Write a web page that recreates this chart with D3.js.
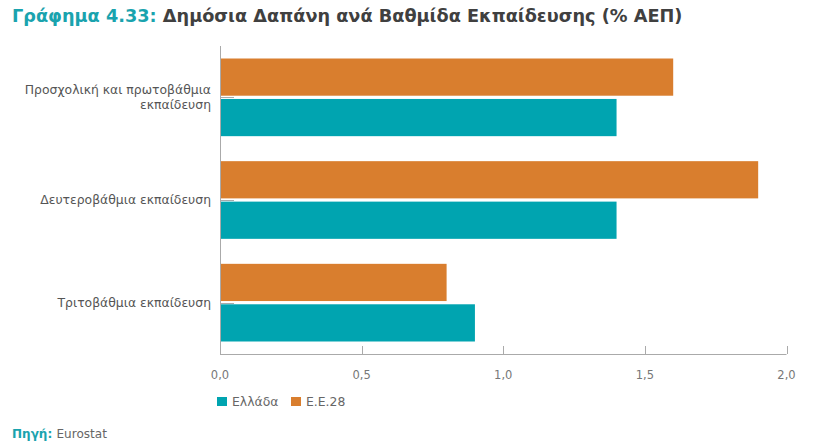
<!DOCTYPE html>
<html><head><meta charset="utf-8">
<script src="https://cdn.jsdelivr.net/npm/d3@7"></script>
<style>body{margin:0;background:#fff}svg{display:block}text{font-family:"DejaVu Sans",sans-serif}</style>
</head><body><svg id="c" width="831" height="448"></svg>
<script>
const categories = [["Προσχολική και πρωτοβάθμια","εκπαίδευση"],["Δευτεροβάθμια εκπαίδευση"],["Τριτοβάθμια εκπαίδευση"]];
const seriesNames = ["Ε.Ε.28","Ελλάδα"];
const eu28 = [1.6, 1.9, 0.8];
const greece = [1.4, 1.4, 0.9];
const xTicks = [0, 0.5, 1.0, 1.5, 2.0];
const colors = {"Ελλάδα":"#00A4B0","Ε.Ε.28":"#D97E2E"};

const svg = d3.select("#c");
const x = d3.scaleLinear().domain([0,2]).range([220,786.5]);
const y = d3.scaleBand().domain(d3.range(categories.length)).range([46,354]);
const inner = d3.scaleBand().domain(seriesNames).range([12.5, y.bandwidth()-12.5]).paddingInner(0.08);

function fit(sel, target){
  const w = sel.node().getComputedTextLength();
  const fs = parseFloat(sel.attr("font-size"));
  sel.attr("font-size", fs*target/w);
}

// title
const t = svg.append("text").attr("x",12).attr("y",22).attr("font-size",16).attr("font-weight","bold");
t.append("tspan").attr("fill","#1AA3AE").text("Γράφημα 4.33: ");
t.append("tspan").attr("fill","#404040").text("Δημόσια Δαπάνη ανά Βαθμίδα Εκπαίδευσης (% ΑΕΠ)");
fit(t, 671);

const data = [eu28, greece];
categories.forEach((c,i)=>{
  seriesNames.forEach((s,j)=>{
    svg.append("rect").attr("x",x(0)).attr("y",y(i)+inner(s))
      .attr("width",x(data[j][i])-x(0)).attr("height",inner.bandwidth()).attr("fill",colors[s]);
  });
});

// axes
const axisColor = "#aaa";
svg.append("line").attr("x1",x(0)+0.5).attr("x2",x(0)+0.5).attr("y1",46).attr("y2",354).attr("stroke",axisColor);
svg.append("line").attr("x1",x(0)).attr("x2",x(2)).attr("y1",354.5).attr("y2",354.5).attr("stroke",axisColor);
xTicks.forEach(v=>{
  svg.append("line").attr("x1",Math.round(x(v))+0.5).attr("x2",Math.round(x(v))+0.5).attr("y1",346).attr("y2",354).attr("stroke",axisColor);
  svg.append("text").attr("x",x(v)).attr("y",379).attr("text-anchor","middle").attr("font-size",11.5)
    .attr("fill","#777").text(d3.format(".1f")(v).replace(".",","));
});
// measure label font size
const probe = svg.append("text").attr("font-size",11).text("Δευτεροβάθμια εκπαίδευση");
fit(probe, 171);
const labelFs = +probe.attr("font-size");
probe.remove();
categories.forEach((c,i)=>{
  const cy = y(i)+y.bandwidth()/2;
  svg.append("line").attr("x1",x(0)).attr("x2",x(0)+14).attr("y1",Math.round(cy)+0.5).attr("y2",Math.round(cy)+0.5).attr("stroke",axisColor);
  const txt = svg.append("text").attr("x",211).attr("text-anchor","end").attr("font-size",labelFs).attr("fill","#555");
  const lh = 15;
  const y0 = cy + 4 - (c.length-1)*lh/2;
  c.forEach((line,k)=>txt.append("tspan").attr("x",211).attr("y",y0+k*lh).text(line));
});

// legend
const legendItems = [["Ελλάδα",217],["Ε.Ε.28",291]];
legendItems.forEach(([n,lx])=>{
  svg.append("rect").attr("x",lx).attr("y",397).attr("width",10).attr("height",9).attr("fill",colors[n]);
  svg.append("text").attr("x",lx+15).attr("y",405.5).attr("font-size",labelFs).attr("fill","#666").text(n);
});

// source
const s = svg.append("text").attr("x",12).attr("y",438).attr("font-size",11.5);
s.append("tspan").attr("fill","#1AA3AE").attr("font-weight","bold").text("Πηγή: ");
s.append("tspan").attr("fill","#666").text("Eurostat");
fit(s, 95);
</script></body></html>
